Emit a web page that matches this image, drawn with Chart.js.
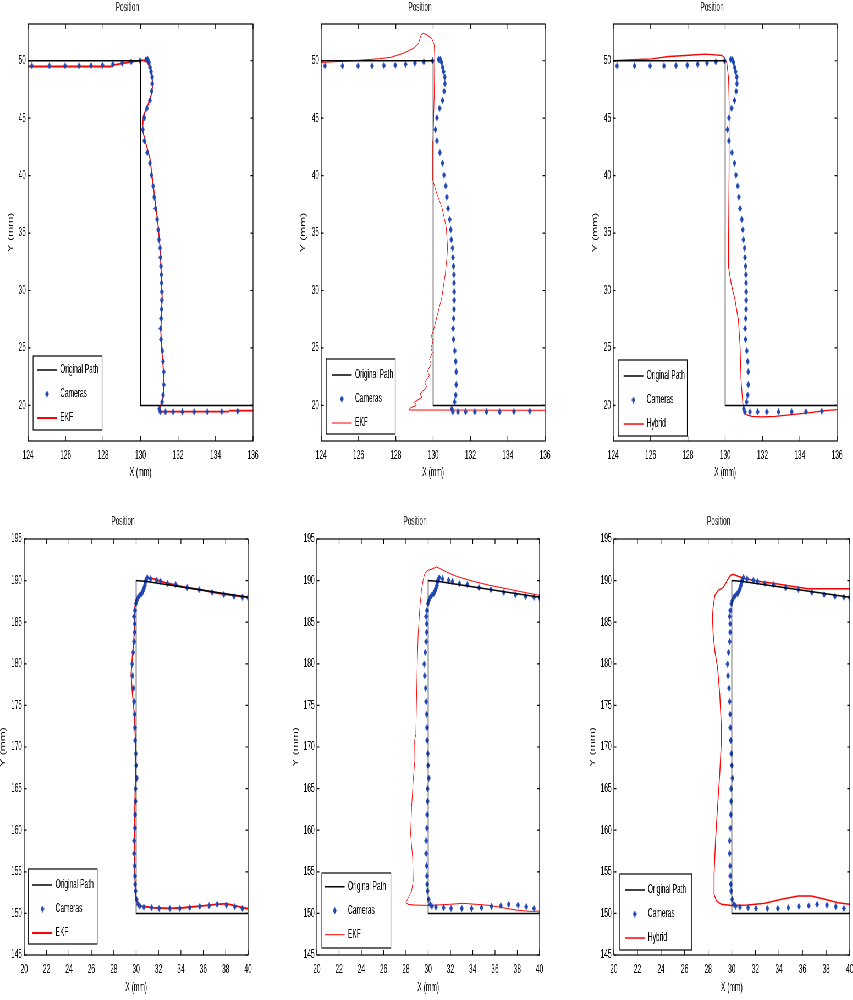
<!DOCTYPE html>
<html>
<head>
<meta charset="utf-8">
<title>Position</title>
<script src="https://cdn.jsdelivr.net/npm/chart.js@4.4.1/dist/chart.umd.min.js"></script>
<style>
  html, body { margin: 0; padding: 0; background: #fff; overflow: hidden; }
  /* the original figure is squeezed sideways, so the whole stage is too */
  #stage { position: absolute; left: 0; top: 0; width: 1551px; height: 1000px; transform: scaleX(0.55); transform-origin: 0 0; }
  #stage canvas { position: absolute; }
</style>
</head>
<body>
<div id="stage"></div>
<script>
// axes
var xRangeTop = [124, 136];
var yRangeTop = [16.9, 53.2];
var xTicksTop = [124, 126, 128, 130, 132, 134, 136];
var yTicksTop = [20, 25, 30, 35, 40, 45, 50];
var xRangeBot = [20, 40];
var yRangeBot = [145, 195];
var xTicksBot = [20, 22, 24, 26, 28, 30, 32, 34, 36, 38, 40];
var yTicksBot = [145, 150, 155, 160, 165, 170, 175, 180, 185, 190, 195];

// original path
var pathTopX = [124, 130, 130, 136];
var pathTopY = [50, 50, 20, 20];
var pathBotX = [40, 30.95, 30, 30, 40];
var pathBotY = [188, 189.9, 190, 150, 150];

// camera measurements (same in every panel of a row)
var camTopX = [124.2, 125.14, 125.97, 126.72, 127.36, 127.97, 128.52, 129.02, 129.5, 129.97,
  130.29, 130.38, 130.45, 130.51, 130.56, 130.62, 130.63, 130.59, 130.5, 130.34,
  130.2, 130.12, 130.2, 130.36, 130.5, 130.58, 130.67, 130.73, 130.8, 130.89,
  130.94, 130.98, 131.04, 131.06, 131.09, 131.11, 131.12, 131.13, 131.13, 131.12,
  131.1, 131.07, 131.09, 131.16, 131.2, 131.24, 131.24, 131.2, 131.15, 131.0,
  131.05, 131.33, 131.74, 132.23, 132.86, 133.56, 134.33, 135.18];
var camTopY = [49.55, 49.55, 49.55, 49.55, 49.58, 49.62, 49.7, 49.8, 49.9, 50.0,
  50.12, 50.12, 49.85, 49.42, 49.04, 48.58, 48.0, 47.35, 46.55, 45.87,
  45.03, 44.01, 43.03, 42.0, 41.09, 40.05, 39.1, 38.14, 37.14, 36.19,
  35.29, 34.42, 33.7, 32.88, 32.12, 31.38, 30.66, 29.89, 29.16, 28.37,
  27.56, 26.69, 25.75, 24.75, 23.83, 22.92, 21.8, 20.9, 20.3, 19.7,
  19.43, 19.43, 19.43, 19.43, 19.43, 19.43, 19.45, 19.5];
var camBotX = [40.0, 39.5, 38.75, 37.83, 36.79, 35.63, 34.56, 33.52, 32.8, 32.18,
  31.83, 31.29, 30.99, 30.87, 30.82, 30.78, 30.7, 30.63, 30.55, 30.48,
  30.3, 30.18, 30.05, 29.97, 29.88, 29.82, 29.86, 29.86, 29.82, 29.73,
  29.64, 29.68, 29.77, 29.82, 29.86, 29.88, 29.91, 29.97, 30.0, 30.06,
  29.94, 29.94, 29.91, 29.88, 29.82, 29.82, 29.86, 29.88, 29.91, 29.94,
  30.03, 30.18, 30.33, 30.69, 31.38, 32.05, 33.01, 33.9, 34.79, 35.68,
  36.52, 37.23, 38.07, 38.81, 39.5];
var camBotY = [187.95, 188.02, 188.1, 188.31, 188.59, 188.91, 189.15, 189.52, 189.64, 189.91,
  190.04, 190.2, 190.36, 190.04, 189.8, 189.43, 189.1, 188.83, 188.6, 188.43,
  188.2, 188.02, 187.6, 187.22, 186.41, 185.69, 184.8, 183.8, 182.67, 181.38,
  179.97, 178.56, 177.07, 175.46, 173.94, 172.32, 170.8, 169.2, 167.79, 166.26,
  164.98, 163.48, 161.87, 160.26, 158.73, 157.2, 155.71, 154.5, 153.5, 152.69,
  151.69, 151.09, 150.88, 150.76, 150.68, 150.6, 150.6, 150.6, 150.68, 150.85,
  150.92, 151.09, 151.0, 150.8, 150.6];

// filter estimates, one per panel
var ekfAX = [124, 128.4, 128.6, 129.5, 130.1, 130.35, 130.55, 130.65, 130.6, 130.4, 130.15, 130.1, 130.25, 130.5, 130.65, 130.8, 130.95, 131.05, 131.1, 131.15, 131.12, 131.08, 131.12, 131.2, 131.25, 131.22, 131.0, 131.1, 134.7, 134.75, 136];
var ekfAY = [49.5, 49.5, 49.65, 49.9, 50.05, 49.9, 49.2, 48.0, 47.2, 46.2, 45.2, 44.0, 43.0, 41.5, 39.5, 37.5, 35.5, 33.5, 31.5, 29.5, 28, 26.5, 25, 23.5, 22, 20.8, 19.6, 19.45, 19.45, 19.55, 19.55];
var ekfBX = [124.0, 125.66, 127.08, 127.71, 128.42, 128.95, 129.22, 129.35, 129.46, 129.67, 129.94, 130.06, 130.08, 130.06, 129.99, 129.99, 130.2, 130.47, 130.7, 130.77, 130.74, 130.65, 130.47, 130.2, 130.02,
  129.9, 130.0, 129.88, 129.96, 129.8, 129.9, 129.7, 129.8, 129.55, 129.65, 129.3, 129.4, 129.0, 129.1, 128.8, 128.69, 136];
var ekfBY = [49.85, 50.0, 50.17, 50.29, 50.66, 51.09, 51.52, 52.25, 52.39, 52.25, 51.9, 51.38, 50.37, 47.06, 43.01, 39.55, 38.4, 37.24, 35.51, 33.78, 32.9, 31.46, 29.44, 27.71, 26.55,
  26.0, 25.6, 25.0, 24.6, 24.0, 23.6, 23.0, 22.6, 22.0, 21.6, 21.0, 20.7, 20.3, 20.0, 19.8, 19.6, 19.57];
var hybCX = [124.0, 125.09, 126.07, 126.96, 127.86, 128.93, 129.46, 129.82, 129.96, 130.09, 130.18, 130.21, 130.21, 130.18, 130.18, 130.32, 130.53, 130.71, 130.8, 130.85, 130.94, 131.03, 131.11, 131.43, 131.96, 132.68, 133.57, 134.46, 135.36, 136.0];
var hybCY = [50.0, 50.09, 50.17, 50.37, 50.46, 50.57, 50.52, 50.46, 50.29, 49.79, 48.5, 46.48, 40.7, 34.35, 32.04, 30.6, 29.15, 27.42, 25.11, 22.23, 20.21, 19.57, 19.2, 19.05, 19.0, 19.05, 19.2, 19.34, 19.54, 19.63];
var ekfDX = [40.0, 38.66, 37.18, 35.69, 34.2, 32.71, 31.82, 31.22, 30.98, 30.78, 30.48, 30.09, 29.88, 29.86, 29.79, 29.68, 29.59, 29.55, 29.62, 29.73, 29.86, 29.91, 29.97, 29.94, 29.88, 29.86, 29.88, 29.94, 30.09, 30.48, 31.52, 33.01, 34.2, 35.69, 37.18, 38.07, 38.96, 40.0];
var ekfDY = [188.02, 188.22, 188.5, 188.91, 189.23, 189.71, 190.12, 190.32, 190.24, 189.64, 188.62, 187.62, 186.81, 185.2, 182.79, 181.18, 179.57, 178.77, 177.15, 175.54, 173.53, 171.52, 169.7, 166.79, 162.75, 158.73, 154.71, 152.29, 151.28, 150.88, 150.68, 150.6, 150.68, 150.88, 151.09, 151.17, 150.88, 150.56];
var ekfEX = [40.0, 38.5, 37.01, 35.52, 34.02, 32.53, 31.64, 31.04, 30.74, 30.44, 29.99, 29.69, 29.54, 29.4, 29.25, 29.1, 29.01, 28.95, 28.89, 28.78, 28.8, 28.65, 28.51, 28.42, 28.6, 28.65, 28.51, 28.06, 28.0, 28.2, 28.8, 30.14, 31.93, 33.13, 34.32, 35.52, 36.71, 37.91, 39.1, 40.0];
var ekfEY = [188.22, 188.62, 189.03, 189.43, 189.92, 190.52, 191.04, 191.45, 191.64, 191.45, 191.24, 190.85, 190.04, 188.83, 186.81, 183.6, 179.57, 175.54, 171.52, 170.81, 168.39, 165.98, 162.75, 159.54, 156.72, 153.9, 152.69, 151.49, 151.28, 151.09, 151.0, 150.96, 151.09, 151.21, 151.09, 150.96, 150.68, 150.4, 150.24, 150.28];
var hybFX = [40.0, 36.47, 35.06, 33.64, 32.23, 31.1, 30.53, 30.11, 29.92, 29.75, 29.55, 29.26, 28.84, 28.56, 28.42, 28.36, 28.42, 28.56, 28.79, 28.98, 29.12, 29.12, 28.98, 28.79, 28.62, 28.5, 28.5, 28.7, 29.12, 29.97, 31.38, 32.8, 34.21, 35.62, 36.75, 37.88, 39.01, 40.0];
var hybFY = [189.03, 189.03, 189.31, 189.64, 189.92, 190.24, 190.52, 190.76, 190.64, 190.36, 189.83, 189.15, 188.83, 188.22, 186.81, 185.6, 183.6, 181.58, 179.57, 176.35, 172.32, 170.81, 166.79, 162.75, 158.73, 154.71, 152.29, 151.49, 151.09, 150.96, 151.0, 151.21, 151.69, 152.09, 152.09, 151.69, 151.28, 151.09];

var SQUASH = 0.55;
var FONT = '"Liberation Sans", Arial, sans-serif';
var BLUE = '#1e46b4';
var RED = '#ff0000';

// page pixel layout of each subplot (chart area edges, legend spots)
var panels = [
  {L: 28,  R: 253, B: 441, bot: false, fx: ekfAX, fy: ekfAY, name: 'EKF',    redW: 1.8, yt: 17, leg: [9, 71], frame: [5, 74, 85, 11]},
  {L: 321, R: 545, B: 441, bot: false, fx: ekfBX, fy: ekfBY, name: 'EKF',    redW: 1.0, yt: 18, leg: [10.7, 66], frame: [5, 74, 82, 7]},
  {L: 613, R: 837, B: 441, bot: false, fx: hybCX, fy: hybCY, name: 'Hybrid', redW: 1.3, yt: 18, leg: [10.3, 65], frame: [5, 74, 81, 5]},
  {L: 24,  R: 248, B: 955, bot: true,  fx: ekfDX, fy: ekfDY, name: 'EKF',    redW: 1.8, yt: 21, leg: [8.3, 70], frame: [4, 73, 86, 11]},
  {L: 317, R: 540, B: 955, bot: true,  fx: ekfEX, fy: ekfEY, name: 'EKF',    redW: 1.0, yt: 21, leg: [8, 68.3], frame: [5, 74, 82, 7]},
  {L: 614, R: 850, B: 955, bot: true,  fx: hybFX, fy: hybFY, name: 'Hybrid', redW: 1.5, yt: 21, leg: [11, 65], frame: [6, 78, 81, 5]}
];

function pts(xs, ys) {
  return xs.map(function (x, i) { return {x: x, y: ys[i]}; });
}

function makeMarker() {
  var c = document.createElement('canvas');
  c.width = 7; c.height = 7;
  var g = c.getContext('2d');
  g.fillStyle = BLUE;
  g.beginPath();
  g.moveTo(3.5, 0); g.lineTo(7, 3.5); g.lineTo(3.5, 7); g.lineTo(0, 3.5);
  g.closePath();
  g.fill();
  return c;
}
var marker = makeMarker();

// matlab style box with inward ticks, plus the framed legend
var matlabAxes = {
  id: 'matlabAxes',
  beforeDraw: function (chart, args, o) {
    var lg = chart.legend, a = chart.chartArea;
    lg.left = a.left + o.leg[0] / SQUASH - 12;
    lg.right = a.right;
    lg.top = a.bottom - o.leg[1] - 6 - 12;
    lg.bottom = a.bottom + 40;
  },
  afterDraw: function (chart, args, o) {
    var ctx = chart.ctx, a = chart.chartArea;
    var xs = chart.scales.x, ys = chart.scales.y;
    ctx.save();
    ctx.strokeStyle = '#000';
    ctx.lineWidth = 1.2;
    ctx.strokeRect(a.left, a.top, a.right - a.left, a.bottom - a.top);
    ctx.beginPath();
    xs.ticks.forEach(function (t) {
      var px = xs.getPixelForValue(t.value);
      ctx.moveTo(px, a.top); ctx.lineTo(px, a.top + 5);
      ctx.moveTo(px, a.bottom); ctx.lineTo(px, a.bottom - 5);
    });
    ys.ticks.forEach(function (t) {
      var py = ys.getPixelForValue(t.value);
      ctx.moveTo(a.left, py); ctx.lineTo(a.left + 4.5, py);
      ctx.moveTo(a.right, py); ctx.lineTo(a.right - 4.5, py);
    });
    ctx.stroke();
    var f = o.frame;
    ctx.strokeRect(a.left + f[0] / SQUASH, a.bottom - f[2], (f[1] - f[0]) / SQUASH, f[2] - f[3]);
    ctx.restore();
  }
};

function axis(range, ticks, title, isX, tpad) {
  return {
    type: 'linear',
    min: range[0],
    max: range[1],
    afterBuildTicks: function (s) {
      s.ticks = ticks.map(function (v) { return {value: v}; });
    },
    afterFit: isX
      ? function (s) { s.height = 45; s.paddingLeft = 0; s.paddingRight = 0; }
      : function (s) { s.width = 48; s.paddingTop = 0; s.paddingBottom = 0; },
    grid: {display: false, drawTicks: false},
    border: {display: false},
    ticks: {color: '#000', font: {family: FONT, size: 12}, padding: isX ? 7 : 4, maxRotation: 0, autoSkip: false},
    title: {
      display: true, text: title, color: '#000',
      font: {family: FONT, size: 12},
      padding: isX ? {top: 0, bottom: tpad} : {top: tpad, bottom: 0}
    }
  };
}

var stage = document.getElementById('stage');

panels.forEach(function (p) {
  var canvas = document.createElement('canvas');
  var w = Math.round((p.R - p.L) / SQUASH) + 60;
  canvas.width = w;
  canvas.height = 486;
  canvas.style.left = (p.L / SQUASH - 48) + 'px';
  canvas.style.top = (p.bot ? 514 : 0) + 'px';
  stage.appendChild(canvas);

  var pathX = p.bot ? pathBotX : pathTopX, pathY = p.bot ? pathBotY : pathTopY;
  var camX = p.bot ? camBotX : camTopX, camY = p.bot ? camBotY : camTopY;

  new Chart(canvas, {
    type: 'scatter',
    data: {
      datasets: [{
        label: 'Original Path',
        data: pts(pathX, pathY),
        showLine: true,
        borderColor: '#000',
        borderWidth: 1.5,
        pointRadius: 0
      }, {
        label: 'Cameras',
        data: pts(camX, camY),
        showLine: false,
        pointStyle: marker,
        pointRadius: 3.5,
        backgroundColor: BLUE,
        borderColor: BLUE
      }, {
        label: p.name,
        data: pts(p.fx, p.fy),
        showLine: true,
        borderColor: RED,
        borderWidth: p.redW,
        pointRadius: 0
      }]
    },
    options: {
      responsive: false,
      animation: false,
      events: [],
      layout: {padding: {left: 0, right: 12, top: 0, bottom: 0}},
      scales: {
        x: axis(p.bot ? xRangeBot : xRangeTop, p.bot ? xTicksBot : xTicksTop, 'X (mm)', true, p.bot ? 4.8 : 5.8),
        y: axis(p.bot ? yRangeBot : yRangeTop, p.bot ? yTicksBot : yTicksTop, 'Y (mm)', false, 48 - p.yt / SQUASH - 7.2)
      },
      plugins: {
        title: {
          display: true,
          text: 'Position',
          color: '#222',
          font: {family: FONT, size: 12, weight: 'normal'},
          padding: {top: 0, bottom: p.bot ? 10.6 : 9.6}
        },
        legend: {
          position: 'chartArea',
          align: 'start',
          labels: {
            usePointStyle: true,
            pointStyleWidth: 36,
            boxHeight: 12,
            padding: 12,
            color: '#000',
            font: {family: FONT, size: 12},
            generateLabels: function (chart) {
              var items = Chart.defaults.plugins.legend.labels.generateLabels(chart);
              items.forEach(function (it) {
                var ds = chart.data.datasets[it.datasetIndex];
                it.pointStyle = ds.showLine ? 'line' : marker;
                it.lineWidth = ds.showLine ? ds.borderWidth : 0;
                it.strokeStyle = ds.borderColor;
              });
              return items;
            }
          }
        },
        tooltip: {enabled: false},
        matlabAxes: {leg: p.leg, frame: p.frame}
      }
    },
    plugins: [matlabAxes]
  });
});
</script>
</body>
</html>
